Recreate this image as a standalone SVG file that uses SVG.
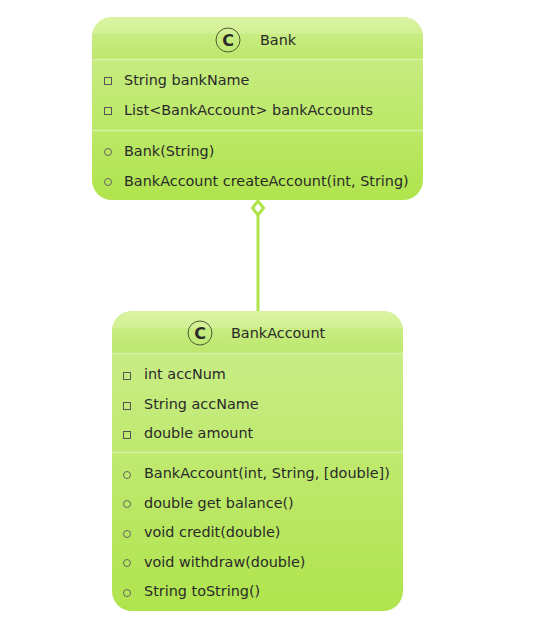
<svg xmlns="http://www.w3.org/2000/svg" width="545" height="634" viewBox="0 0 545 634">
<defs>
<linearGradient id="body" x1="0" y1="0" x2="0" y2="1">
<stop offset="0" stop-color="#cdee8f"/>
<stop offset="1" stop-color="#b0e44d"/>
</linearGradient>
<linearGradient id="head" x1="0" y1="0" x2="0" y2="1">
<stop offset="0" stop-color="#daf4a3"/>
<stop offset="0.4" stop-color="#d2f093"/>
<stop offset="0.41" stop-color="#c8ec82"/>
<stop offset="1" stop-color="#bde86d"/>
</linearGradient>
<clipPath id="c1"><rect x="92" y="17" width="331" height="183" rx="20"/></clipPath>
<clipPath id="c2"><rect x="112" y="311" width="291" height="300" rx="20"/></clipPath>
</defs>
<style>
text{font-family:"DejaVu Sans","Noto Sans",sans-serif;font-size:14.4px;fill:#2a2a2a}
.ic{font-weight:bold;font-size:16px;text-anchor:middle}
.cc{fill:none;stroke:#4a5a30;stroke-width:1}
.sq{fill:none;stroke:#555;stroke-width:1}
.ci{fill:none;stroke:#666;stroke-width:1}
.div{stroke:#d8f3a6;stroke-width:1.5}
.edge{stroke:#b0e44d;stroke-width:3;fill:none}
</style>
<g id="connectors">
<line class="edge" x1="258" y1="215" x2="258" y2="312"/>
<polygon points="258,201 263.5,208 258,215 252.5,208" fill="#ffffff" stroke="#b0e44d" stroke-width="3"/>
</g>
<g id="Bank">
<g clip-path="url(#c1)">
<rect x="92" y="17" width="331" height="183" fill="url(#body)"/>
<rect x="92" y="17" width="331" height="42" fill="url(#head)"/>
</g>
<line class="div" x1="92" y1="59.5" x2="423" y2="59.5"/>
<line class="div" x1="92" y1="130.5" x2="423" y2="130.5"/>
<circle class="cc" cx="228" cy="40" r="12"/>
<text class="ic" x="228" y="46">C</text>
<text x="260" y="45">Bank</text>
<rect class="sq" x="104.5" y="77.5" width="7" height="7"/>
<text x="124" y="85">String bankName</text>
<rect class="sq" x="104.5" y="107.5" width="7" height="7"/>
<text x="124" y="115">List&lt;BankAccount&gt; bankAccounts</text>
<circle class="ci" cx="108" cy="152" r="3.5"/>
<text x="124" y="156">Bank(String)</text>
<circle class="ci" cx="108" cy="182" r="3.5"/>
<text x="124" y="186">BankAccount createAccount(int, String)</text>
</g>
<g id="BankAccount">
<g clip-path="url(#c2)">
<rect x="112" y="311" width="291" height="300" fill="url(#body)"/>
<rect x="112" y="311" width="291" height="42" fill="url(#head)"/>
</g>
<line class="div" x1="112" y1="353.5" x2="403" y2="353.5"/>
<line class="div" x1="112" y1="452.5" x2="403" y2="452.5"/>
<circle class="cc" cx="200" cy="333" r="12"/>
<text class="ic" x="200" y="339">C</text>
<text x="231" y="338">BankAccount</text>
<rect class="sq" x="123.5" y="372.5" width="7" height="7"/>
<text x="144" y="379">int accNum</text>
<rect class="sq" x="123.5" y="402.5" width="7" height="7"/>
<text x="144" y="409">String accName</text>
<rect class="sq" x="123.5" y="431.5" width="7" height="7"/>
<text x="144" y="438">double amount</text>
<circle class="ci" cx="127" cy="475" r="3.5"/>
<text x="144" y="478">BankAccount(int, String, [double])</text>
<circle class="ci" cx="127" cy="504" r="3.5"/>
<text x="144" y="508">double get balance()</text>
<circle class="ci" cx="127" cy="534" r="3.5"/>
<text x="144" y="537">void credit(double)</text>
<circle class="ci" cx="127" cy="563" r="3.5"/>
<text x="144" y="567">void withdraw(double)</text>
<circle class="ci" cx="127" cy="593" r="3.5"/>
<text x="144" y="596">String toString()</text>
</g>
</svg>
